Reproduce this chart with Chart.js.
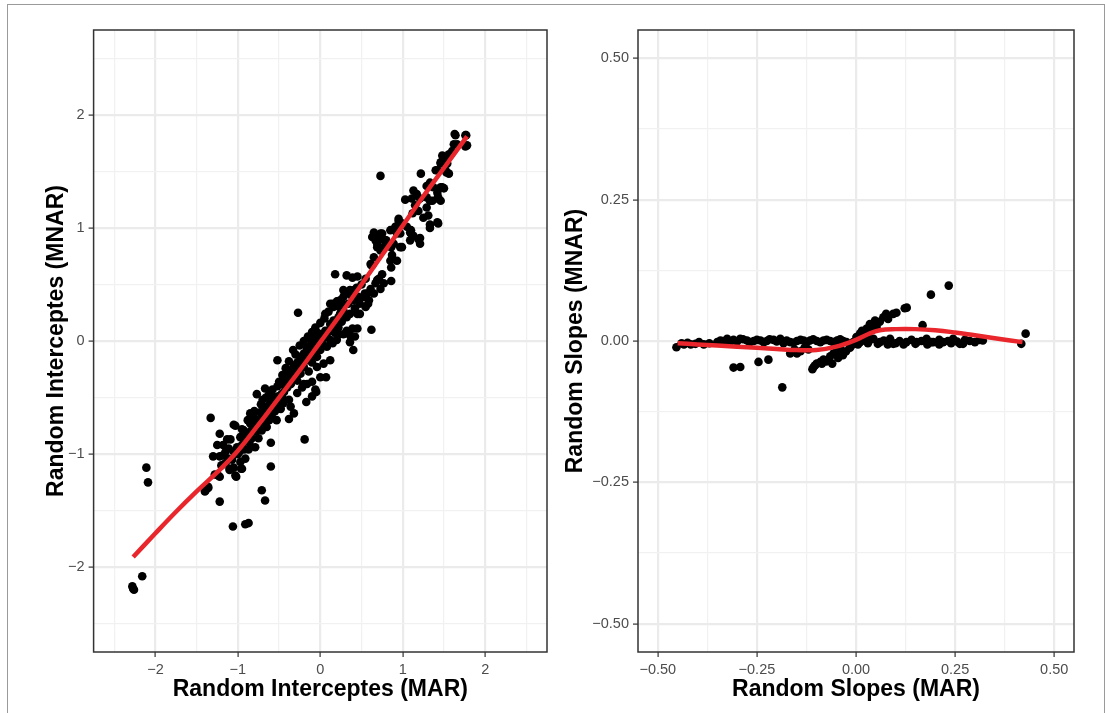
<!DOCTYPE html>
<html>
<head>
<meta charset="utf-8">
<script src="https://cdn.jsdelivr.net/npm/chart.js@4.4.1/dist/chart.umd.min.js"></script>
<style>
html, body { margin: 0; padding: 0; background: #fff; }
body { width: 1106px; height: 713px; position: relative; overflow: hidden; }
#frame { position: absolute; left: 7px; top: 4px; width: 1096px; height: 760px; border: 1px solid #9a9a9a; }
canvas { position: absolute; top: 0; }
#left { left: 0; }
#right { left: 560px; }
</style>
</head>
<body>
<div id="frame"></div>
<canvas id="left" width="560" height="713"></canvas>
<canvas id="right" width="546" height="713"></canvas>
<script>
// random intercepts: MAR (x) vs MNAR (y)
const interceptPoints = [
  [-2.28,-2.17],[-2.27,-2.19],[-2.26,-2.20],[-2.16,-2.08],[-2.11,-1.12],[-2.09,-1.25],
  [-1.33,-0.68],[-1.22,-0.82],[-1.22,-1.42],[-1.06,-1.64],[-0.91,-1.62],[-0.87,-1.61],
  [-0.71,-1.32],[-0.67,-1.41],[-0.60,-1.11],[-0.60,-0.90],[-0.19,-0.87],[-0.52,-0.17],
  [-1.39,-1.32],[-1.36,-1.29],[-1.40,-1.33],[-1.03,-1.19],[-0.96,-1.13],[-1.10,-1.13],[-1.24,-1.19],
  [-1.03,-0.75],[-0.77,-0.47],[-0.67,-0.42],[-0.05,-0.45],[-0.17,-0.54],[0.40,-0.08],[0.36,-0.01],[0.07,-0.32],
  [0.73,1.46],[-0.27,0.25],[0.62,0.10],[0.18,0.59],[0.86,0.53],[1.03,1.25],[1.22,1.48],[1.43,1.04],
  [1.33,1.00],[1.21,0.86],[1.21,0.91],[1.53,1.49],
  [1.63,1.83],[1.77,1.82],[1.76,1.72],[1.62,1.74],[1.49,1.63],[1.46,1.57],[1.40,1.51],[1.48,1.36],
  [1.43,1.27],[1.36,1.24],[1.13,1.33],[1.12,1.13],[1.10,0.98],[0.95,1.06],[0.93,0.95],[0.73,0.95],
  [0.75,0.82],[0.80,0.89],[0.86,0.83],[0.99,0.83],[1.10,0.95],[0.93,0.71],[0.86,0.65],[0.62,0.67],
  [0.69,0.54],[0.32,0.58],[0.45,0.57],[0.39,0.56],[0.28,0.45],[0.41,0.45],[0.15,0.33],[0.06,0.24],
  [0.23,0.30],[0.58,0.33],[0.54,0.42],[0.45,0.24],[0.39,0.11],[0.45,0.11],[0.23,0.06],[0.15,-0.02],
  [-0.03,0.07],[-0.11,0.01],[-0.16,-0.06],[-0.33,-0.08],
  [-1.05,-0.74],[-1.13,-0.87],[-1.09,-0.87],[-1.22,-1.02],[-1.18,-1.01],[-1.10,-1.14],[-1.05,-1.12],
  [-0.95,-1.13],[-1.02,-1.20],[-1.22,-1.20],[-1.36,-1.30],[-0.38,-0.69],[-0.85,-0.64],[-0.81,-0.67],
  [-0.93,-0.79],[-0.89,-0.82],[-0.97,-0.85],[-0.85,-0.73],[-0.77,-0.70],[-0.73,-0.63],[-0.69,-0.58],
  [-0.61,-0.55],[-0.55,-0.52],[-0.51,-0.49],[-0.44,-0.45],[-0.40,-0.41],[-0.36,-0.38],[-0.36,-0.58],
  [-0.32,-0.64],[-0.38,-0.52],[-0.59,-0.66],[-0.53,-0.70],[-0.65,-0.76],[-0.71,-0.79],[-0.75,-0.86],
  [-0.79,-0.94],[-0.87,-0.96],[-0.91,-1.04],[-0.97,-1.07],[-1.05,-0.98],[-1.01,-0.94],[-1.15,-0.98],
  [-1.11,-0.95],[-0.28,-0.46],[-0.22,-0.41],[-0.16,-0.38],[-0.06,-0.43],[-0.10,-0.49],
  [0.12,0.33],[0.16,0.30],[0.20,0.35],[0.24,0.36],[0.28,0.39],[0.32,0.42],[0.36,0.45],[0.28,0.27],
  [0.22,0.21],[0.16,0.18],[0.12,0.15],[0.06,0.09],[0.02,0.06],[-0.04,0.05],[-0.08,0.01],[-0.12,-0.04],
  [-0.16,-0.07],[-0.20,-0.11],[-0.24,-0.14],[-0.28,-0.19],[-0.32,-0.22],[-0.36,-0.26],[-0.40,-0.30],
  [-0.44,-0.32],[-0.16,-0.17],[-0.10,-0.19],[-0.04,-0.14],[0.00,-0.08],[0.08,-0.05],[0.12,0.01],
  [0.18,0.07],[0.22,0.12],[0.26,0.17],[0.32,0.21],[0.36,0.24],[0.42,0.29],[0.48,0.33],[0.53,0.39],
  [0.57,0.42],[0.61,0.46],[0.67,0.51],[0.71,0.55],[0.75,0.59],[0.40,0.36],[0.46,0.39],[-0.20,-0.23],
  [-0.24,-0.29],[-0.14,-0.27],[-0.04,-0.23],[0.04,-0.20],[-0.49,-0.38],[-0.36,-0.38],[-0.28,-0.35],
  [-0.20,-0.38],[-0.10,-0.36],[0.00,-0.32],[0.12,-0.17],[0.20,0.01],[0.32,0.09],[0.36,0.05],
  [0.42,0.04],[0.28,0.06],[0.48,0.24],[0.55,0.30],[0.59,0.36],[0.65,0.42],[0.73,0.46],[0.77,0.51],
  [1.64,1.82],[1.76,1.82],[1.78,1.73],[1.66,1.74],[1.60,1.68],[1.56,1.65],[1.52,1.61],[1.48,1.64],
  [1.46,1.58],[1.54,1.57],[1.42,1.51],[1.52,1.51],[1.56,1.48],[1.33,1.40],[1.29,1.37],[1.37,1.36],
  [1.46,1.36],[1.50,1.35],[1.42,1.31],[1.17,1.30],[1.11,1.26],[1.21,1.26],[1.29,1.27],[1.33,1.24],
  [1.42,1.26],[1.46,1.24],[1.15,1.20],[1.19,1.15],[1.29,1.18],[1.31,1.11],[1.25,1.09],[1.42,1.05],
  [1.33,1.03],[0.95,1.08],[0.99,1.04],[0.91,1.01],[1.05,1.01],[1.09,0.96],[0.97,0.95],[0.85,0.98],
  [1.13,0.93],[1.19,0.90],[1.09,0.89],[0.75,0.95],[0.73,0.90],[0.79,0.89],[0.69,0.86],[0.77,0.83],
  [0.83,0.84],[0.89,0.86],[0.97,0.83],[0.73,0.80],[0.63,0.67],[0.85,0.71],[0.65,0.74],[0.65,0.96],
  [0.71,0.93],[0.67,0.89],[0.63,0.92],[0.69,0.83],[0.61,0.68],[0.87,0.76],
  [-0.85,-0.80],[-0.80,-0.75],[-0.75,-0.72],[-0.70,-0.67],[-0.65,-0.62],[-0.60,-0.58],[-0.57,-0.61],
  [-0.50,-0.55],[-0.47,-0.47],[-0.42,-0.40],[-0.34,-0.33],[-0.30,-0.28],[-0.26,-0.24],[-0.22,-0.20],
  [-0.18,-0.15],[-0.14,-0.10],[-0.08,-0.06],[-0.02,-0.02],[0.04,0.03],[0.10,0.08],[-0.62,-0.70],
  [-0.55,-0.62],[-0.48,-0.60],[-0.45,-0.55],[-0.95,-0.92],[-1.00,-1.00],[-0.90,-0.88],[-0.83,-0.86],
  [-1.15,-1.08],[-1.20,-1.10],[-1.28,-1.18],[-1.30,-1.02],[-1.25,-0.92],[-0.70,-0.52],[-0.62,-0.47],
  [-0.58,-0.43],[-0.50,-0.36],[-0.46,-0.30],[-0.42,-0.24],[-0.38,-0.18],[-0.30,-0.12],[-0.25,-0.04],
  [-0.20,0.00],[-0.15,0.04],[-0.10,0.08],[-0.06,0.12],[0.00,0.16],[0.05,0.20],[0.10,0.26],
  [-0.38,-0.27],[-0.24,-0.17],[-0.11,-0.05],
  [-0.95,-0.78],[-0.88,-0.70],[-0.80,-0.62],[-0.72,-0.56],[-0.66,-0.50],[-0.58,-0.49],[-0.52,-0.40],
  [-0.47,-0.38],[-0.43,-0.35],[-0.39,-0.33],[-0.33,-0.27],[-0.29,-0.24],[-0.25,-0.18],[-0.21,-0.13],
  [-0.17,-0.10],[-0.13,-0.13],[-0.09,-0.12],[-0.05,-0.07],[-0.01,0.01],[0.03,-0.03],[0.07,0.04],
  [0.11,0.10],[0.15,0.10],[0.19,0.16],[0.24,0.24],[0.29,0.32],[0.34,0.33],[0.38,0.40],[0.44,0.47],
  [0.50,0.50],[0.55,0.55],[-0.78,-0.80],[-0.72,-0.72],[-0.68,-0.70],[-0.63,-0.64],[-0.56,-0.57],
  [-0.52,-0.60],[-0.46,-0.50],[-1.18,-0.92],[-1.12,-1.04],[-1.07,-1.05],[-0.98,-0.98],[-0.92,-0.96],
  [-0.86,-0.90],[-0.82,-0.77]
];
const interceptFitX = [-2.27, -2.0, -1.75, -1.5, -1.25, -1.0, -0.75, -0.5, -0.25, 0, 0.25, 0.5, 0.75, 1.0, 1.25, 1.5, 1.78];
const interceptFitY = [-1.91, -1.70, -1.51, -1.33, -1.16, -0.97, -0.74, -0.50, -0.26, -0.01, 0.24, 0.50, 0.76, 1.02, 1.28, 1.53, 1.81];

// random slopes: MAR (x) vs MNAR (y)
const slopePoints = [
  [-0.453,-0.011],[-0.434,-0.006],[-0.417,-0.006],[-0.396,-0.002],[-0.384,-0.006],[-0.342,0.001],
  [-0.325,0.004],[-0.309,0.002],[-0.292,0.004],[-0.275,0.001],[-0.258,0.000],[-0.241,0.001],
  [-0.225,0.000],[-0.208,0.002],[-0.191,0.004],[-0.183,-0.004],[-0.166,-0.002],[-0.149,0.000],
  [-0.132,0.001],[-0.116,0.001],[-0.099,0.000],[-0.082,0.001],[-0.065,0.000],[-0.048,0.001],[-0.032,0.000],
  [-0.440,-0.004],[-0.425,-0.003],[-0.405,-0.005],[-0.370,-0.004],[-0.350,-0.002],[-0.335,0.000],
  [-0.318,-0.002],[-0.300,-0.001],[-0.285,0.003],[-0.268,-0.002],[-0.250,0.002],[-0.233,-0.002],
  [-0.218,0.003],[-0.200,-0.001],[-0.175,0.001],[-0.158,-0.003],[-0.140,0.002],[-0.124,-0.002],
  [-0.108,0.003],[-0.090,-0.002],[-0.074,0.002],[-0.057,-0.002],[-0.040,0.003],[-0.024,-0.002],
  [-0.166,-0.022],[-0.149,-0.022],[-0.155,-0.015],[-0.140,-0.018],[-0.130,-0.012],[-0.120,-0.015],
  [-0.107,-0.046],[-0.099,-0.040],[-0.090,-0.037],[-0.082,-0.033],[-0.065,-0.027],[-0.057,-0.022],
  [-0.048,-0.017],[-0.040,-0.013],[-0.110,-0.050],[-0.103,-0.043],[-0.086,-0.040],[-0.075,-0.036],
  [-0.060,-0.040],[-0.045,-0.030],[-0.033,-0.025],[-0.025,-0.018],[-0.015,-0.012],[-0.008,-0.006],
  [-0.309,-0.047],[-0.292,-0.046],[-0.246,-0.037],[-0.221,-0.033],[-0.186,-0.082],
  [0.001,0.007],[0.010,0.013],[0.018,0.013],[0.027,0.022],[0.035,0.022],[0.044,0.031],[0.060,0.034],
  [0.069,0.042],[0.077,0.045],[0.081,0.039],[0.094,0.048],[0.102,0.050],[0.123,0.058],[0.189,0.082],
  [0.234,0.098],[0.168,0.028],[0.048,0.036],[0.076,0.048],[0.128,0.059],[0.010,0.004],[0.027,0.010],
  [0.052,0.025],[0.035,0.030],[0.015,0.018],
  [-0.007,-0.002],[0.001,-0.002],[0.010,-0.002],[0.020,0.001],[0.035,0.002],[0.044,0.004],[0.060,-0.002],
  [0.070,0.001],[0.086,0.004],[0.094,-0.005],[0.110,0.000],[0.127,-0.002],[0.140,0.002],[0.153,-0.002],
  [0.165,0.000],[0.178,0.004],[0.190,-0.002],[0.195,-0.002],[0.210,0.002],[0.220,-0.002],[0.232,0.000],
  [0.245,0.004],[0.255,-0.001],[0.262,-0.005],[0.275,0.002],[0.287,0.000],[0.300,-0.002],[0.312,0.002],
  [0.320,0.001],[0.417,-0.005],[0.428,0.013],
  [0.005,-0.006],[0.030,-0.004],[0.055,-0.005],[0.080,-0.006],[0.100,-0.004],[0.120,-0.006],
  [0.150,-0.005],[0.180,-0.006],[0.210,-0.006],[0.240,-0.004],[0.270,-0.005]
];
const slopeFitX = [-0.45, -0.40, -0.30, -0.20, -0.15, -0.10, -0.05, 0, 0.03, 0.06, 0.10, 0.15, 0.20, 0.25, 0.30, 0.35, 0.42];
const slopeFitY = [-0.004, -0.006, -0.010, -0.014, -0.016, -0.016, -0.010, 0.002, 0.012, 0.019, 0.021, 0.021, 0.019, 0.015, 0.010, 0.005, -0.002];

// axis breaks
const interceptGrid = [-2.5, -2, -1.5, -1, -0.5, 0, 0.5, 1, 1.5, 2, 2.5];
const interceptTicks = [-2, -1, 0, 1, 2];
const interceptTickLabels = ['\u22122', '\u22121', '0', '1', '2'];
const slopeGrid = [-0.5, -0.375, -0.25, -0.125, 0, 0.125, 0.25, 0.375, 0.5];
const slopeTicks = [-0.5, -0.25, 0, 0.25, 0.5];
const slopeTickLabels = ['\u22120.50', '\u22120.25', '0.00', '0.25', '0.50'];

const FONT = 'Liberation Sans, Arial, Helvetica, sans-serif';

const panelBorder = {
  id: 'panelBorder',
  afterDraw(chart) {
    const a = chart.chartArea;
    const ctx = chart.ctx;
    ctx.save();
    ctx.strokeStyle = '#333333';
    ctx.lineWidth = 1.5;
    ctx.strokeRect(a.left, a.top, a.right - a.left, a.bottom - a.top);
    ctx.restore();
  }
};

function makeAxis(lim, grid, ticks, labels, title, isX, size, titlePad) {
  const major = v => ticks.indexOf(v) >= 0;
  return {
    type: 'linear',
    min: -lim,
    max: lim,
    afterBuildTicks: s => { s.ticks = grid.map(v => ({ value: v })); },
    afterFit: s => { if (isX) s.height = size; else s.width = size; },
    grid: {
      color: c => major(c.tick.value) ? '#ebebeb' : '#f1f1f1',
      lineWidth: c => major(c.tick.value) ? 2.2 : 1.2,
      tickColor: c => major(c.tick.value) ? '#333333' : 'rgba(0,0,0,0)',
      tickLength: 5,
      tickWidth: 1.2
    },
    border: { display: false },
    ticks: {
      autoSkip: false,
      maxRotation: 0,
      padding: 4,
      color: '#4d4d4d',
      font: { family: FONT, size: 14.5 },
      callback: v => { const i = ticks.indexOf(v); return i >= 0 ? labels[i] : ''; }
    },
    title: {
      display: true,
      text: title,
      color: '#000',
      font: { family: FONT, size: 23, weight: 'bold' },
      padding: titlePad
    }
  };
}

function makePanel(id, points, fitX, fitY, lim, grid, ticks, labels, xTitle, yTitle, pad, yWidth, yTitlePad) {
  new Chart(document.getElementById(id), {
    type: 'scatter',
    data: {
      datasets: [{
        data: fitX.map((x, i) => ({ x: x, y: fitY[i] })),
        showLine: true,
        pointRadius: 0,
        borderColor: '#e8262b',
        borderWidth: 4.5,
        tension: 0.4,
        order: 0
      }, {
        data: points.map(p => ({ x: p[0], y: p[1] })),
        pointRadius: 4.3,
        pointBackgroundColor: '#000',
        pointBorderWidth: 0,
        order: 1
      }]
    },
    options: {
      responsive: false,
      animation: false,
      layout: { padding: pad },
      plugins: { legend: { display: false }, tooltip: { enabled: false } },
      scales: {
        x: makeAxis(lim, grid, ticks, labels, xTitle, true, 61, { top: 0, bottom: 10 }),
        y: makeAxis(lim, grid, ticks, labels, yTitle, false, yWidth, yTitlePad)
      }
    },
    plugins: [panelBorder]
  });
}

makePanel('left', interceptPoints, interceptFitX, interceptFitY, 2.75,
  interceptGrid, interceptTicks, interceptTickLabels,
  'Random Interceptes (MAR)', 'Random Interceptes (MNAR)',
  { top: 30, right: 13, bottom: 0, left: 39 }, 54.6, { top: 4, bottom: 0 });

makePanel('right', slopePoints, slopeFitX, slopeFitY, 0.55,
  slopeGrid, slopeTicks, slopeTickLabels,
  'Random Slopes (MAR)', 'Random Slopes (MNAR)',
  { top: 30, right: 32, bottom: 0, left: 0 }, 78, { top: 2, bottom: 0 });
</script>
</body>
</html>
